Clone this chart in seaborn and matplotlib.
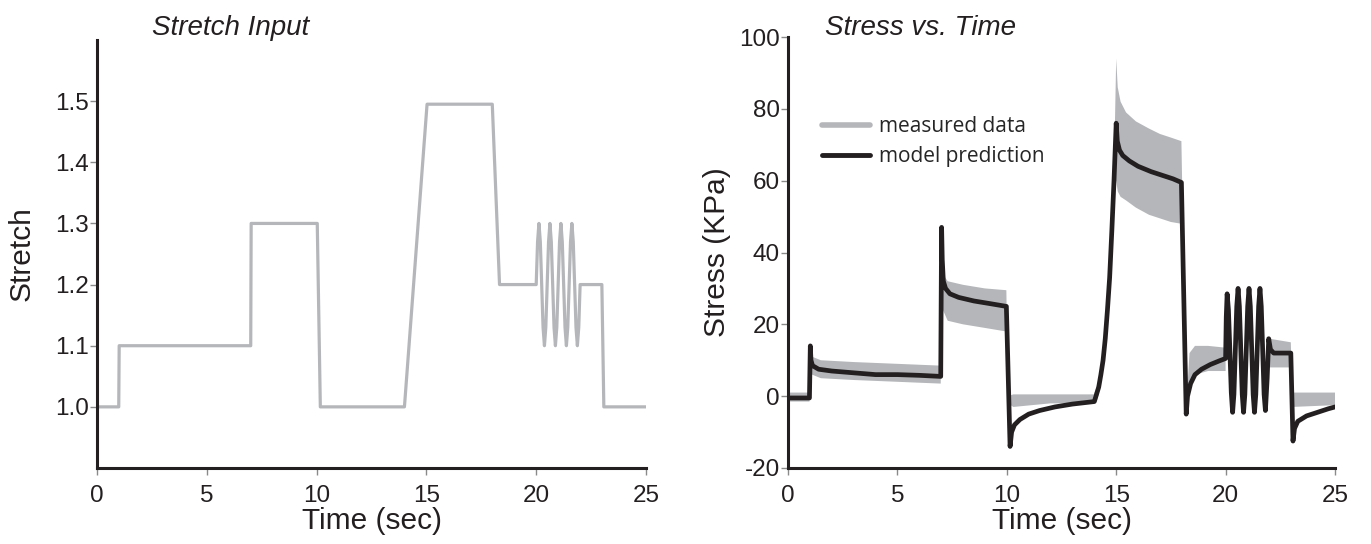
import numpy as np
import matplotlib
matplotlib.use("Agg")
import matplotlib.pyplot as plt
from matplotlib.lines import Line2D
import seaborn as sns

# ---- stretch input (left panel) ----
stretch_t = [0, 0.99, 1.01, 7.0, 7.02, 10.03, 10.17, 14.0, 15.03, 18.0, 18.33, 20.0,
             20.0625, 20.125, 20.1875, 20.25, 20.3125, 20.375, 20.4375,
             20.5, 20.5625, 20.625, 20.6875, 20.75, 20.8125, 20.875, 20.9375,
             21.0, 21.0625, 21.125, 21.1875, 21.25, 21.3125, 21.375, 21.4375,
             21.5, 21.5625, 21.625, 21.6875, 21.75, 21.8125, 21.875, 21.9375,
             22.0, 22.99, 23.08, 25.0]
stretch_val = [1.0, 1.0, 1.1, 1.1, 1.3, 1.3, 1.0, 1.0, 1.495, 1.495, 1.2, 1.2,
               1.27, 1.3, 1.27, 1.2, 1.13, 1.1, 1.13,
               1.2, 1.27, 1.3, 1.27, 1.2, 1.13, 1.1, 1.13,
               1.2, 1.27, 1.3, 1.27, 1.2, 1.13, 1.1, 1.13,
               1.2, 1.27, 1.3, 1.27, 1.2, 1.13, 1.1, 1.13,
               1.2, 1.2, 1.0, 1.0]

# ---- stress: model prediction (black line) ----
model_t = [0, 0.98, 1.02, 1.05, 1.12, 1.4, 2, 3, 4, 5, 6, 6.98,
           7.02, 7.05, 7.1, 7.2, 7.4, 7.8, 8.5, 9.2, 9.98,
           10.15, 10.22, 10.35, 10.6, 11, 11.5, 12.2, 13, 14,
           14.1, 14.2, 14.3, 14.4, 14.5, 14.6, 14.7, 14.8, 14.9, 15.0,
           15.05, 15.15, 15.3, 15.6, 16, 16.6, 17.1, 17.6, 17.98,
           18.2, 18.26, 18.4, 18.6, 18.9, 19.3, 19.7, 20.0,
           20.03, 20.07, 20.13, 20.195, 20.26, 20.32, 20.38, 20.445, 20.51,
           20.57, 20.63, 20.695, 20.76, 20.82, 20.88, 20.945, 21.01,
           21.07, 21.13, 21.195, 21.26, 21.32, 21.38, 21.445, 21.51,
           21.57, 21.63, 21.695, 21.76, 21.82, 21.9, 21.97, 22.05, 22.2, 22.98,
           23.08, 23.15, 23.3, 23.7, 24.2, 24.7, 25]
model_y = [-0.5, -0.5, 14, 10, 8.5, 7.5, 7, 6.5, 6, 6, 5.8, 5.5,
           47, 38, 32, 30, 28.5, 27.5, 26.5, 25.8, 25,
           -14, -10, -8, -6.5, -5, -4, -3, -2.2, -1.5,
           0.5, 2.5, 6, 10, 16, 24, 33, 46, 60, 76,
           71, 68.5, 67, 65.5, 64, 62.5, 61.5, 60.5, 59.5,
           -5, 0, 3.5, 6, 7.5, 8.8, 9.8, 10.5,
           22, 28.5, 24, 12.75, 1, -4.5, 0.5, 12.75, 25,
           30, 25, 12.75, 0.5, -4.5, 0.5, 12.75, 25,
           30, 25, 12.75, 0.5, -4.5, 0.5, 12.75, 25,
           30, 25, 12.75, 0.5, -4, 5, 16, 13, 12, 12,
           -12.5, -9, -7, -5.5, -4.5, -3.5, -3]

# ---- stress: measured data (grey band, upper / lower edge) ----
meas_t = [0, 0.98, 1.02, 1.1, 1.5, 3, 5, 6.98, 7.02, 7.08, 7.3, 8, 9, 9.98,
          10.05, 10.3, 12, 13.98,
          14.1, 14.2, 14.3, 14.4, 14.5, 14.6, 14.7, 14.8, 14.9, 15.0,
          15.07, 15.2, 15.45, 15.9, 16.5, 17, 17.5, 17.98,
          18.2, 18.35, 18.6, 19.2, 20.0, 20.01, 21.99,
          22.0, 22.98, 23.05, 25]
meas_hi = [1, 1, 14, 11, 10, 9.5, 9, 8.5, 45, 34, 32, 31, 30, 29.5,
           0, 0.5, 0.5, 0.5,
           2.5, 4.5, 8, 12, 18, 26, 35, 48, 63, 94,
           86, 82, 79, 76.5, 74.5, 73, 72, 71,
           -3, 12, 14, 14, 13.5, np.nan, np.nan,
           16, 15, 1, 1]
meas_lo = [-1.5, -1.5, 10, 6, 5, 4.5, 4, 3.5, 40, 24, 21, 20, 19, 18,
           -2, -3, -2, -2,
           -1.5, 0.5, 4, 8, 14, 22, 31, 44, 57, 60,
           57, 55.5, 54.5, 52.5, 50.5, 49.5, 48.5, 48,
           -5, 2, 6, 7, 7, np.nan, np.nan,
           8, 8, -3, -2.5]

time_ticks = [0, 5, 10, 15, 20, 25]
stretch_ticks = [1.0, 1.1, 1.2, 1.3, 1.4, 1.5]
stress_ticks = [-20, 0, 20, 40, 60, 80, 100]

GREY = "#b4b6b9"
INK = "#231f20"

sns.set_style("ticks")
plt.rcParams["font.family"] = ["Liberation Sans", "DejaVu Sans"]
plt.rcParams["axes.unicode_minus"] = False

fig = plt.figure(figsize=(13.71, 5.44), dpi=100)
ax1 = fig.add_axes([97 / 1371, 76 / 544, 549 / 1371, 428 / 544])
ax2 = fig.add_axes([788 / 1371, 76 / 544, 547 / 1371, 431 / 544])

sns.lineplot(x=stretch_t, y=stretch_val, ax=ax1, color=GREY, lw=2.3,
             estimator=None, sort=False)
ax1.set_xlim(0, 25)
ax1.set_ylim(0.9, 1.6)
ax1.set_yticks(stretch_ticks)
ax1.set_yticklabels([f"{v:.1f}" for v in stretch_ticks])
ax1.set_ylabel("Stretch", fontsize=21.5, color=INK, labelpad=14)

ax2.fill_between(meas_t, meas_lo, meas_hi, color=GREY, lw=0)
sns.lineplot(x=model_t, y=model_y, ax=ax2, color=INK, lw=3.4,
             estimator=None, sort=False)
ax2.set_xlim(0, 25)
ax2.set_ylim(-20, 100)
ax2.set_yticks(stress_ticks)
ax2.set_ylabel("Stress (KPa)", fontsize=21.5, color=INK, labelpad=6)

for ax in (ax1, ax2):
    ax.set_xticks(time_ticks)
    ax.set_xlabel("Time (sec)", fontsize=21.5, color=INK, labelpad=0)
    sns.despine(ax=ax)
    for side in ("left", "bottom"):
        ax.spines[side].set_linewidth(2.2)
        ax.spines[side].set_color(INK)
    ax.tick_params(axis="both", labelsize=17.5, labelcolor=INK, color="#8a8a8a",
                   length=5, width=1, direction="out")
    ax.tick_params(axis="x", pad=7)
    ax.tick_params(axis="y", pad=1)

fig.text(152 / 1371, 1 - 35 / 544, "Stretch Input", fontsize=20, style="italic",
         color=INK, va="baseline", ha="left")
fig.text(825 / 1371, 1 - 35 / 544, "Stress vs. Time", fontsize=20, style="italic",
         color=INK, va="baseline", ha="left")

handles = [Line2D([], [], color=GREY, lw=4.0), Line2D([], [], color=INK, lw=3.5)]
ax2.legend(handles, ["measured data", "model prediction"], frameon=False,
           loc="upper left", bbox_to_anchor=(0.028, 0.86), handlelength=2.3,
           handletextpad=0.45, labelspacing=0.45,
           prop={"family": ["Open Sans", "DejaVu Sans"], "size": 15})

fig.savefig("out.png", dpi=100)
